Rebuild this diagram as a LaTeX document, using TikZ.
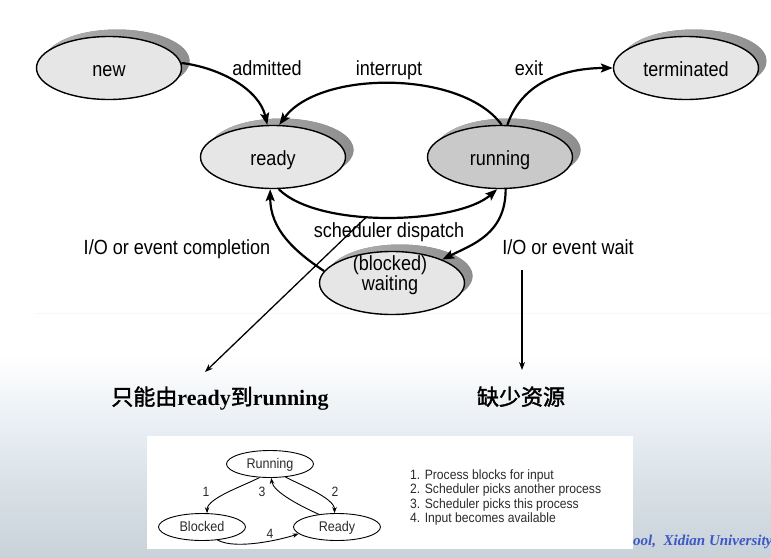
\documentclass[tikz,border=0pt]{standalone}
\usepackage{fontspec}
\setmainfont{Liberation Sans}
\newfontfamily\nar[FakeStretch=0.88]{Liberation Sans}
\newfontfamily\sml[FakeStretch=0.9]{Liberation Sans}
\newfontfamily\cjk[FakeBold=1.8]{Noto Sans CJK SC}
\newfontfamily\tms{Liberation Serif}
\usetikzlibrary{shapes.geometric,arrows.meta,shadows}
\definecolor{stfill}{HTML}{E6E6E6}
\definecolor{runfill}{HTML}{C9C9C9}
\definecolor{shadl}{HTML}{B4B4B4}
\definecolor{shadr}{HTML}{8E8E8E}
\definecolor{bgmid}{HTML}{E3EAF0}
\definecolor{bgbot}{HTML}{C8D2D8}
\definecolor{foot}{HTML}{3C57C6}
\definecolor{smtxt}{HTML}{2B2B2B}
\begin{document}
\begin{tikzpicture}[x=1pt,y=-1pt,
 state/.style={ellipse,draw=black,line width=1.4pt,fill=stfill,minimum width=145pt,minimum height=63pt,inner sep=0pt,
   drop shadow={shadow xshift=8pt,shadow yshift=7pt,opacity=1,left color=shadl,right color=shadr},
   font=\nar\fontsize{20.5}{22}\selectfont,text height=16pt,text depth=0pt},
 lbl/.style={font=\nar\fontsize{20.5}{22}\selectfont,inner sep=0pt,anchor=base},
 trans/.style={line width=2.2pt,-{Stealth[length=12pt,width=9pt,inset=2.5pt]}},
 note/.style={line width=1.3pt,-{Stealth[length=8pt,width=6pt]}},
 small/.style={ellipse,draw=black,line width=0.9pt,fill=white,minimum width=87pt,minimum height=27pt,inner sep=0pt,
   font=\sml\fontsize{14}{15}\selectfont,text=smtxt,text height=9pt,text depth=0pt},
 smarr/.style={line width=0.9pt,-{Stealth[length=6pt,width=4.5pt]}},
 smlbl/.style={font=\sml\fontsize{13.5}{15}\selectfont,text=smtxt,inner sep=0pt,anchor=base},
 lst/.style={font=\sml\fontsize{13.5}{15}\selectfont,text=smtxt,inner sep=0pt,anchor=base west},
 cn/.style={font=\fontsize{22}{24}\selectfont,inner sep=0pt,anchor=base}
]
\useasboundingbox (0,0) rectangle (771,557);
\clip (0,0) rectangle (771,557);
% background
\fill[white] (0,0) rectangle (771,557);
\shade[top color=white,bottom color=bgmid] (0,355) rectangle (771,446);
\shade[top color=bgmid,bottom color=bgbot] (0,445) rectangle (771,557);
\draw[gray!6,line width=0.8pt] (35,313) -- (771,313);

% states
\node[state] (new) at (109,68) {new};
\node[state] (ready) at (273,157) {ready};
\node[state,fill=runfill] (running) at (500,157) {running};
\node[state] (term) at (686,68) {terminated};
\node[state] (wait) at (392,283) {};

% transitions
\draw[trans] (new.4) .. controls +(40,5) and +(-8,-35) .. (ready.100);
\draw[trans] (running.87) .. controls +(-40,-55) and +(40,-55) .. (ready.79);
\draw[trans] (running.77) .. controls +(15,-45) and +(-45,0) .. (term.west);
\draw[trans] (ready.-80) .. controls +(40,40) and +(-40,35) .. (running.-95)
   node[pos=0.42,coordinate] (sd) {};
\draw[trans] (running.-80) .. controls +(0,45) and +(30,-15) .. (wait.25);
\draw[trans] (wait.170) .. controls +(-30,-20) and +(0,40) .. (ready.-95);

% labels
\node[lbl] (adm) at (267,75) {admitted};
\node[lbl] (intr) at (389,75) {interrupt};
\node[lbl] (exitl) at (529,75) {exit};
\node[lbl] (sdl) at (389,237) {scheduler dispatch};
\node[lbl] (ioc) at (177,254) {I/O or event completion};
\node[lbl] (iow) at (568,254) {I/O or event wait};
\node[lbl] (blk) at (390,270) {(blocked)};
\node[lbl] (wtx) at (390,290) {waiting};

% annotations
\coordinate (a1) at (205,372);
\draw[note] (sd) -- (a1);
\coordinate (b0) at (522,270);
\coordinate (b1) at (522,370);
\draw[note] (b0) -- (b1);
\node[cn] (t1) at (220,405) {{\cjk 只能由}{\tms\bfseries ready}{\cjk 到}{\tms\bfseries running}};
\node[cn] (t2) at (521,405) {\cjk 缺少资源};

% small diagram
\fill[white] (147,436) rectangle (633,549);
\node[small] (sR) at (270,464) {Running};
\node[small] (sB) at (202,527) {Blocked};
\node[small] (sY) at (337,527) {Ready};
\draw[smarr] (sR.-128) .. controls +(-15,8) and +(0,-15) .. (sB.70);
\draw[smarr] (sR.-40) .. controls +(15,8) and +(0,-15) .. (sY.100);
\draw[smarr] (sY.145) .. controls +(-18,-8) and +(2,14) .. (sR.-85);
\draw[smarr] (sB.-40) .. controls +(18,10) and +(-18,6) .. (sY.190);
\node[smlbl] (n1) at (206,496) {1};
\node[smlbl] (n3) at (262,496) {3};
\node[smlbl] (n2) at (335,496) {2};
\node[smlbl] (n4) at (270,538) {4};
\node[lst] (l1) at (410,479) {1. Process blocks for input};
\node[lst] (l2) at (410,493.5) {2. Scheduler picks another process};
\node[lst] (l3) at (410,508) {3. Scheduler picks this process};
\node[lst] (l4) at (410,522.5) {4. Input becomes available};

% footer
\node[anchor=base west,inner sep=0pt,font=\tms\bfseries\itshape\fontsize{15}{17}\selectfont,text=foot] (ft) at (633,545) {ool,\ \ Xidian University};
\end{tikzpicture}
\end{document}
